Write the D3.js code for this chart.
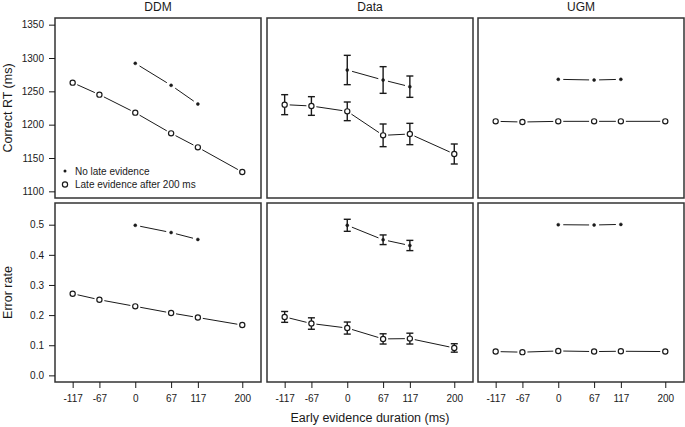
<!DOCTYPE html>
<html><head><meta charset="utf-8">
<script src="https://cdn.jsdelivr.net/npm/d3@7"></script>
<style>
body{margin:0;background:#fff;}
svg{display:block;font-family:"Liberation Sans",Arial,Helvetica,sans-serif;}
</style></head>
<body><svg id="c" width="685" height="427"></svg>
<script>
// ---- data ----
const models = ["DDM", "Data", "UGM"];
const xTicks = [-117, -67, 0, 67, 117, 200];
const xTickLabels = ["-117", "-67", "0", "67", "117", "200"];
const xLate = [-117, -67, 0, 67, 117, 200];
const xNoLate = [0, 67, 117];
const rtTicks = [1100, 1150, 1200, 1250, 1300, 1350];
const errTicks = [0, 0.1, 0.2, 0.3, 0.4, 0.5];

// Correct RT (ms)
const rtDDMLate = [1263, 1245, 1218, 1187, 1166, 1129];
const rtDDMNoLate = [1292, 1259, 1231];
const rtDataLate = [1230, 1228, 1220, 1184, 1186, 1156];
const rtDataLateSE = [15, 14, 14, 17, 16, 15];
const rtDataNoLate = [1282, 1267, 1257];
const rtDataNoLateSE = [22, 20, 16];
const rtUGMLate = [1205, 1204, 1205, 1205, 1205, 1205];
const rtUGMNoLate = [1268, 1267, 1268];

// Error rate
const erDDMLate = [0.271, 0.251, 0.229, 0.207, 0.192, 0.167];
const erDDMNoLate = [0.498, 0.474, 0.451];
const erDataLate = [0.194, 0.172, 0.157, 0.121, 0.122, 0.091];
const erDataLateSE = [0.018, 0.019, 0.02, 0.017, 0.018, 0.014];
const erDataNoLate = [0.498, 0.450, 0.431];
const erDataNoLateSE = [0.02, 0.016, 0.017];
const erUGMLate = [0.079, 0.077, 0.081, 0.079, 0.080, 0.079];
const erUGMNoLate = [0.500, 0.499, 0.501];

const legendLabels = ["No late evidence", "Late evidence after 200 ms"];

// ---- layout ----
const svg = d3.select("#c");
const ink = "#1a1a1a";
const colX = [55, 267, 478], panelW = 206;
const rows = [
  {top: 18, bottom: 198, domain: [1090, 1360], ticks: rtTicks, fmt: d => String(d), label: "Correct RT (ms)",
   series: [
     {late: rtDDMLate, noLate: rtDDMNoLate},
     {late: rtDataLate, lateSE: rtDataLateSE, noLate: rtDataNoLate, noLateSE: rtDataNoLateSE},
     {late: rtUGMLate, noLate: rtUGMNoLate}]},
  {top: 203, bottom: 382, domain: [-0.022, 0.572], ticks: errTicks, fmt: d => d.toFixed(1), label: "Error rate",
   series: [
     {late: erDDMLate, noLate: erDDMNoLate},
     {late: erDataLate, lateSE: erDataLateSE, noLate: erDataNoLate, noLateSE: erDataNoLateSE},
     {late: erUGMLate, noLate: erUGMNoLate}]}
];

function drawSeries(g, xs, ys, x, y, filled, gap) {
  const pts = xs.map((d, i) => [x(d), y(ys[i])]);
  for (let i = 0; i < pts.length - 1; i++) {
    const [x1, y1] = pts[i], [x2, y2] = pts[i + 1];
    const L = Math.hypot(x2 - x1, y2 - y1);
    if (L <= 2 * gap) continue;
    const ux = (x2 - x1) / L, uy = (y2 - y1) / L;
    g.append("line")
      .attr("x1", x1 + ux * gap).attr("y1", y1 + uy * gap)
      .attr("x2", x2 - ux * gap).attr("y2", y2 - uy * gap)
      .attr("stroke", ink).attr("stroke-width", 1);
  }
  g.selectAll(null).data(pts).enter().append("circle")
    .attr("cx", d => d[0]).attr("cy", d => d[1])
    .attr("r", filled ? 1.5 : 2.6)
    .attr("fill", filled ? ink : "#fff")
    .attr("stroke", ink).attr("stroke-width", filled ? 0.5 : 1.2);
}

function drawErr(g, xs, ys, se, x, y) {
  xs.forEach((d, i) => {
    const cx = x(d), y1 = y(ys[i] + se[i]), y2 = y(ys[i] - se[i]);
    g.append("line").attr("x1", cx).attr("x2", cx).attr("y1", y1).attr("y2", y2)
      .attr("stroke", ink).attr("stroke-width", 1.4);
    [y1, y2].forEach(yy => g.append("line").attr("x1", cx - 3.5).attr("x2", cx + 3.5)
      .attr("y1", yy).attr("y2", yy).attr("stroke", ink).attr("stroke-width", 1.4));
  });
}

rows.forEach((row, ri) => {
  const y = d3.scaleLinear().domain(row.domain).range([row.bottom, row.top]);
  colX.forEach((cx, ci) => {
    const x = d3.scaleLinear().domain([-150, 235]).range([cx, cx + panelW]);
    const g = svg.append("g");
    const s = row.series[ci];
    if (s.lateSE) {
      drawErr(g, xLate, s.late, s.lateSE, x, y);
      drawErr(g, xNoLate, s.noLate, s.noLateSE, x, y);
    }
    drawSeries(g, xNoLate, s.noLate, x, y, true, 5);
    drawSeries(g, xLate, s.late, x, y, false, 5);
    // box
    svg.append("rect").attr("x", cx).attr("y", row.top)
      .attr("width", panelW).attr("height", row.bottom - row.top)
      .attr("fill", "none").attr("stroke", "#333").attr("stroke-width", 1.5);
    if (ci === 0) {
      const ax = svg.append("g").attr("transform", `translate(${cx},0)`)
        .call(d3.axisLeft(y).tickValues(row.ticks).tickFormat(row.fmt).tickSize(6).tickPadding(5));
      ax.select(".domain").remove();
      ax.selectAll("text").attr("font-size", 10).attr("fill", ink).attr("font-family", "Liberation Sans, Arial, sans-serif");
      ax.selectAll("line").attr("stroke", ink);
      svg.append("text").attr("transform", `translate(12,${(row.top + row.bottom) / 2}) rotate(-90)`)
        .attr("text-anchor", "middle").attr("font-size", 12.5).attr("fill", ink).text(row.label);
    }
    if (ri === 1) {
      const ax = svg.append("g").attr("transform", `translate(0,${row.bottom})`)
        .call(d3.axisBottom(x).tickValues(xTicks).tickFormat((d, i) => xTickLabels[i]).tickSize(6).tickPadding(7));
      ax.select(".domain").remove();
      ax.selectAll("text").attr("font-size", 10).attr("fill", ink).attr("font-family", "Liberation Sans, Arial, sans-serif");
      ax.selectAll("line").attr("stroke", ink);
    }
    if (ri === 0) {
      svg.append("text").attr("x", cx + panelW / 2).attr("y", 11)
        .attr("text-anchor", "middle").attr("font-size", 12).attr("fill", ink).text(models[ci]);
    }
    if (ri === 0 && ci === 0) {
      const lg = svg.append("g");
      lg.append("circle").attr("cx", 65).attr("cy", 171).attr("r", 1.5).attr("fill", ink);
      lg.append("circle").attr("cx", 65).attr("cy", 184.5).attr("r", 2.6).attr("fill", "#fff").attr("stroke", ink).attr("stroke-width", 1.2);
      legendLabels.forEach((t, i) => lg.append("text").attr("x", 75).attr("y", 174.5 + i * 13.5)
        .attr("font-size", 10).attr("fill", ink).text(t));
    }
  });
});

svg.append("text").attr("x", 370).attr("y", 422).attr("text-anchor", "middle")
  .attr("font-size", 12.5).attr("fill", ink).text("Early evidence duration (ms)");
</script>
</body></html>
